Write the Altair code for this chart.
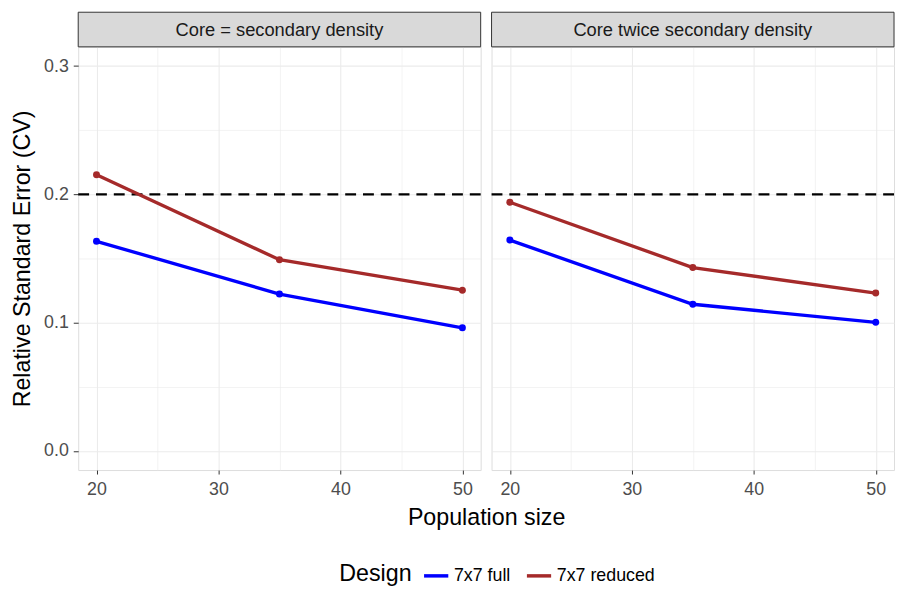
import altair as alt
import pandas as pd

# ---- data ----
pop = [20, 35, 50]
designs = ["7x7 full", "7x7 reduced"]
design_colors = ["#0000FF", "#A52A2A"]
panel_titles = ["Core = secondary density", "Core twice secondary density"]
left_full = [0.1634, 0.1222, 0.0959]
left_reduced = [0.2152, 0.1490, 0.1253]
right_full = [0.1643, 0.1143, 0.1002]
right_reduced = [0.1938, 0.1429, 0.1230]
threshold = [0.2]
x_grid = [20, 25, 30, 35, 40, 45, 50]
y_grid = [0.0, 0.05, 0.1, 0.15, 0.2, 0.25, 0.3]

FONT = "Liberation Sans"
W, H = 407, 428
XDOM = [18.5, 51.5]
YDOM = [-0.015, 0.315]
LBL = 18
TTL = 23.5

x_minor = "datum.value % 10 != 0"
y_minor = "abs(datum.value * 10 - round(datum.value * 10)) > 0.01"


def panel(title, full, reduced, first):
    df = pd.DataFrame({
        "pop": pop * 2,
        "cv": full + reduced,
        "design": [designs[0]] * len(pop) + [designs[1]] * len(pop),
    })
    x_axis_kw = dict(
        values=x_grid,
        labelExpr="datum.value % 10 == 0 ? datum.label : ''",
        tickOpacity={"condition": {"test": x_minor, "value": 0}, "value": 1},
        gridWidth={"condition": {"test": x_minor, "value": 0.6}, "value": 1.1},
        gridColor="#EBEBEB",
        domain=False,
        tickColor="#333333",
        tickSize=4,
        labelPadding=7,
        labelFontSize=LBL,
        labelColor="#4D4D4D",
        labelFont=FONT,
    )
    if first:
        x_axis = alt.Axis(
            title="Population size",
            titleX=W + 5.5,
            titleY=48,
            titleAlign="center",
            titleBaseline="middle",
            titleFontSize=TTL,
            titleFontWeight="normal",
            titleColor="black",
            titleFont=FONT,
            **x_axis_kw,
        )
        y_axis = alt.Axis(
            title="Relative Standard Error (CV)",
            values=y_grid,
            format=".1f",
            labelExpr="abs(datum.value * 10 - round(datum.value * 10)) > 0.01 ? '' : datum.label",
            tickOpacity={"condition": {"test": y_minor, "value": 0}, "value": 1},
            gridWidth={"condition": {"test": y_minor, "value": 0.6}, "value": 1.1},
            gridColor="#EBEBEB",
            domain=False,
            tickColor="#333333",
            tickSize=5,
            labelPadding=5,
            labelFontSize=LBL,
            labelColor="#4D4D4D",
            labelFont=FONT,
            titleFontSize=TTL,
            titleFontWeight="normal",
            titleColor="black",
            titleFont=FONT,
            titlePadding=9,
        )
    else:
        x_axis = alt.Axis(title=None, **x_axis_kw)
        y_axis = alt.Axis(
            title=None,
            values=y_grid,
            labels=False,
            ticks=False,
            domain=False,
            gridWidth={"condition": {"test": y_minor, "value": 0.6}, "value": 1.1},
            gridColor="#EBEBEB",
        )

    xs = alt.Scale(domain=XDOM, nice=False, zero=False)
    ys = alt.Scale(domain=YDOM, nice=False, zero=False)
    color = alt.Color(
        "design:N",
        scale=alt.Scale(domain=designs, range=design_colors),
        legend=alt.Legend(
            title="Design",
            orient="none",
            direction="horizontal",
            titleOrient="left",
            legendX=264,
            legendY=521,
            titleFontSize=TTL,
            titleFontWeight="normal",
            titleColor="black",
            titleFont=FONT,
            labelFontSize=LBL,
            labelColor="black",
            labelFont=FONT,
            symbolType="stroke",
            symbolStrokeWidth=3.5,
            symbolSize=600,
            columnPadding=8,
            labelOffset=4,
            titlePadding=10,
            padding=0,
        ),
    )

    base = alt.Chart(df)
    grid = base.mark_point(opacity=0).encode(
        x=alt.X("pop:Q", scale=xs, axis=x_axis),
        y=alt.Y("cv:Q", scale=ys, axis=y_axis),
    )
    rule = alt.Chart(pd.DataFrame({"t": threshold})).mark_rule(
        color="black", strokeWidth=2.4, strokeDash=[11, 7]
    ).encode(y=alt.Y("t:Q", scale=ys))
    lines = base.mark_line(strokeWidth=3.4).encode(
        x=alt.X("pop:Q", scale=xs), y=alt.Y("cv:Q", scale=ys), color=color
    )
    pts = base.mark_circle(size=50, opacity=1).encode(
        x=alt.X("pop:Q", scale=xs), y=alt.Y("cv:Q", scale=ys), color=color
    )
    strip_df = pd.DataFrame({"label": [title]})
    strip = alt.Chart(strip_df).mark_rect(
        fill="#D9D9D9", stroke="#333333", strokeWidth=1
    ).encode(
        x=alt.value(0), x2=alt.value(W), y=alt.value(-35), y2=alt.value(0)
    )
    strip_text = alt.Chart(strip_df).mark_text(
        fontSize=18.5, color="#1A1A1A", font=FONT, baseline="middle", align="center"
    ).encode(x=alt.value(W / 2), y=alt.value(-16.5), text="label:N")

    return alt.layer(grid, rule, lines, pts, strip, strip_text).properties(
        width=W, height=H
    )


left = panel(panel_titles[0], left_full, left_reduced, True)
right = panel(panel_titles[1], right_full, right_reduced, False)

chart = (
    alt.hconcat(left, right, spacing=11, bounds="flush")
    .properties(padding={"left": 2, "top": 0, "right": 0, "bottom": 0})
    .configure_view(stroke="#333333", strokeWidth=1)
    .configure(font=FONT)
)

chart.save("out.html", embed_options={"renderer": "svg", "actions": False})
